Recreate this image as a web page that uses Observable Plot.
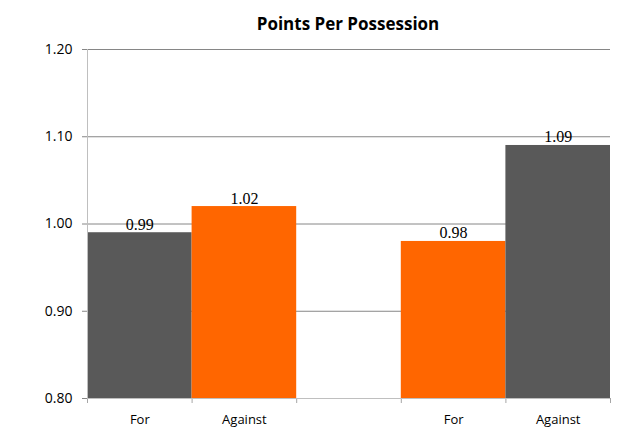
<!DOCTYPE html>
<html><head><meta charset="utf-8">
<script src="https://cdn.jsdelivr.net/npm/d3@7"></script>
<script src="https://cdn.jsdelivr.net/npm/@observablehq/plot@0.6"></script>
<style>
body{margin:0;background:#fff;}
#wrap{position:relative;width:640px;height:436px;}
#title{position:absolute;left:0;width:696px;top:12px;text-align:center;font:bold 17px "Open Sans",sans-serif;color:#000;}
</style></head>
<body><div id="wrap"><div id="title">Points Per Possession</div></div>
<script>
const categories = ["For", "Against", "", "For", "Against"];
const values = [0.99, 1.02, null, 0.98, 1.09];
const colors = ["#595959", "#FF6600", null, "#FF6600", "#595959"];
const yTicks = [0.8, 0.9, 1.0, 1.1, 1.2];

const data = categories.map((c, i) => ({i, c, v: values[i], col: colors[i]}));
const bars = data.filter(d => d.v != null);

const chart = Plot.plot({
  width: 640, height: 436,
  marginLeft: 87, marginRight: 30, marginTop: 49, marginBottom: 38,
  x: {type: "linear", domain: [0, categories.length], axis: "bottom", ticks: d3.range(categories.length + 1), tickFormat: () => "", tickSize: 5, line: false, label: null},
  y: {domain: [0.8, 1.2], axis: null, label: null},
  style: {background: "#fff", color: "#a6a6a6"},
  marks: [
    Plot.ruleY(yTicks, {y: d => d, x1: 0, x2: categories.length, stroke: "#868686", strokeWidth: 1, insetLeft: -5}),
    Plot.rectY(bars, {x1: "i", x2: d => d.i + 1, y1: 0.8, y2: "v", fill: "col"}),
    Plot.ruleX([0], {y1: 0.8, y2: 1.2, stroke: "#bfbfbf"}),
    Plot.ruleY([0.8], {x1: 0, x2: categories.length, stroke: "#bfbfbf"}),
    Plot.text(yTicks, {x: 0, y: d => d, text: d => d.toFixed(2), textAnchor: "end", dx: -15, fontSize: 14, fontFamily: "Open Sans", fill: "#000"}),
    Plot.text(data, {x: d => d.i + 0.5, y: 0.8, text: "c", dy: 21, fontSize: 13, fontFamily: "Open Sans", fill: "#000"}),
    Plot.text(bars, {x: d => d.i + 0.5, y: "v", text: d => d.v.toFixed(2), lineAnchor: "bottom", dy: -3, fontSize: 16, fontFamily: "Liberation Serif", fill: "#000"})
  ]
});
document.getElementById("wrap").appendChild(chart);
</script></body></html>
